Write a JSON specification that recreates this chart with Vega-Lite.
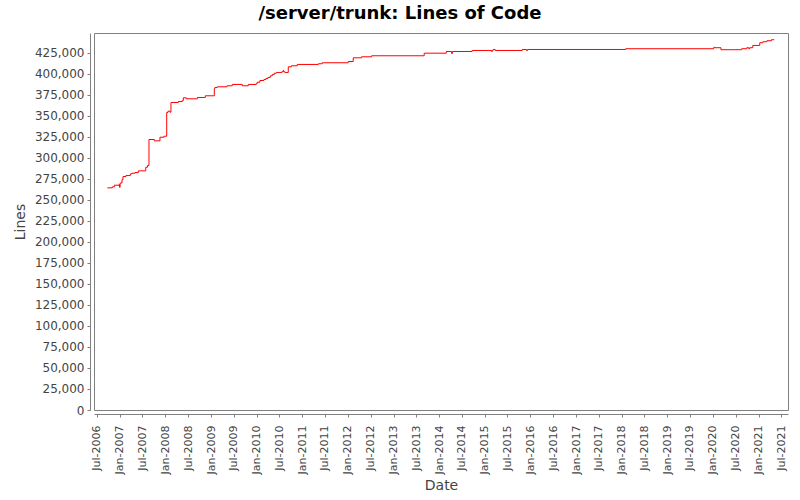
{
  "$schema": "https://vega.github.io/schema/vega-lite/v6.json",
  "autosize": "none",
  "width": 694,
  "height": 377,
  "padding": {"left": 94, "top": 33, "right": 12, "bottom": 90},
  "background": "#ffffff",
  "title": {
    "text": "/server/trunk: Lines of Code",
    "font": "DejaVu Sans",
    "fontSize": 18,
    "fontWeight": "bold",
    "color": "#000000",
    "anchor": "middle",
    "dx": -41,
    "offset": 10
  },
  "config": {
    "view": {"stroke": "#808080", "strokeWidth": 1},
    "axis": {
      "grid": false,
      "domainColor": "#808080",
      "tickColor": "#808080",
      "tickSize": 3,
      "labelFont": "DejaVu Sans",
      "labelColor": "#444444",
      "titleFont": "DejaVu Sans",
      "titleColor": "#444444",
      "titleFontSize": 14,
      "titleFontWeight": "normal",
      "offset": 4
    }
  },
  "data": {
    "values": [
      {"date": "2006-09-24", "lines": 264300},
      {"date": "2006-11-03", "lines": 265500},
      {"date": "2006-11-19", "lines": 267400},
      {"date": "2006-12-26", "lines": 268200},
      {"date": "2006-12-30", "lines": 265000},
      {"date": "2007-01-04", "lines": 270000},
      {"date": "2007-01-19", "lines": 274000},
      {"date": "2007-01-27", "lines": 277700},
      {"date": "2007-02-20", "lines": 278900},
      {"date": "2007-03-27", "lines": 280900},
      {"date": "2007-04-07", "lines": 281700},
      {"date": "2007-05-03", "lines": 282500},
      {"date": "2007-05-30", "lines": 284500},
      {"date": "2007-07-28", "lines": 288800},
      {"date": "2007-08-11", "lines": 290800},
      {"date": "2007-08-23", "lines": 321800},
      {"date": "2007-10-05", "lines": 320200},
      {"date": "2007-11-19", "lines": 324500},
      {"date": "2007-12-21", "lines": 325700},
      {"date": "2008-01-12", "lines": 353900},
      {"date": "2008-01-22", "lines": 355500},
      {"date": "2008-02-07", "lines": 354300},
      {"date": "2008-02-15", "lines": 365800},
      {"date": "2008-04-14", "lines": 367000},
      {"date": "2008-05-16", "lines": 368200},
      {"date": "2008-05-24", "lines": 371400},
      {"date": "2008-06-17", "lines": 370200},
      {"date": "2008-09-13", "lines": 371800},
      {"date": "2008-11-16", "lines": 373800},
      {"date": "2009-01-27", "lines": 382500},
      {"date": "2009-02-01", "lines": 383700},
      {"date": "2009-02-20", "lines": 384500},
      {"date": "2009-05-08", "lines": 385700},
      {"date": "2009-06-20", "lines": 387300},
      {"date": "2009-09-08", "lines": 385700},
      {"date": "2009-10-26", "lines": 387300},
      {"date": "2009-12-29", "lines": 388500},
      {"date": "2010-01-06", "lines": 390000},
      {"date": "2010-01-27", "lines": 392000},
      {"date": "2010-02-28", "lines": 393200},
      {"date": "2010-03-16", "lines": 394400},
      {"date": "2010-04-01", "lines": 395600},
      {"date": "2010-04-20", "lines": 397600},
      {"date": "2010-05-06", "lines": 399200},
      {"date": "2010-05-22", "lines": 400700},
      {"date": "2010-06-10", "lines": 401600},
      {"date": "2010-07-22", "lines": 402400},
      {"date": "2010-08-01", "lines": 403900},
      {"date": "2010-08-05", "lines": 402400},
      {"date": "2010-08-15", "lines": 401600},
      {"date": "2010-09-11", "lines": 408300},
      {"date": "2010-10-05", "lines": 409500},
      {"date": "2010-11-22", "lines": 411100},
      {"date": "2011-05-09", "lines": 411900},
      {"date": "2011-06-10", "lines": 413100},
      {"date": "2012-01-04", "lines": 414600},
      {"date": "2012-02-13", "lines": 419000},
      {"date": "2012-04-20", "lines": 420200},
      {"date": "2012-07-09", "lines": 421400},
      {"date": "2013-09-03", "lines": 424500},
      {"date": "2014-02-27", "lines": 426500},
      {"date": "2014-04-10", "lines": 424200},
      {"date": "2014-04-18", "lines": 426500},
      {"date": "2014-09-22", "lines": 427700},
      {"date": "2015-02-24", "lines": 426500},
      {"date": "2015-03-02", "lines": 427700},
      {"date": "2015-03-09", "lines": 428900},
      {"date": "2015-03-25", "lines": 427700},
      {"date": "2015-10-28", "lines": 428900},
      {"date": "2015-12-01", "lines": 427700},
      {"date": "2015-12-09", "lines": 428900},
      {"date": "2018-02-02", "lines": 429800},
      {"date": "2020-01-08", "lines": 431500},
      {"date": "2020-01-16", "lines": 431000},
      {"date": "2020-03-05", "lines": 428600},
      {"date": "2020-08-18", "lines": 429800},
      {"date": "2020-09-28", "lines": 431000},
      {"date": "2020-10-14", "lines": 429800},
      {"date": "2020-10-22", "lines": 431000},
      {"date": "2020-11-15", "lines": 433700},
      {"date": "2021-01-10", "lines": 436900},
      {"date": "2021-02-04", "lines": 438100},
      {"date": "2021-03-08", "lines": 439300},
      {"date": "2021-04-13", "lines": 440500},
      {"date": "2021-05-06", "lines": 440500}
    ]
  },
  "mark": {"type": "line", "interpolate": "step-after", "color": "#ff0000", "strokeWidth": 1},
  "encoding": {
    "x": {
      "field": "date",
      "type": "temporal",
      "title": "Date",
      "scale": {
        "domain": [
          {"year": 2006, "month": "Jun", "date": 9},
          {"year": 2021, "month": "Aug", "date": 24}
        ]
      },
      "axis": {
        "format": "%b-%Y",
        "tickCount": {"interval": "month", "step": 6},
        "labelAngle": -90,
        "labelFontSize": 11,
        "labelPadding": 8,
        "labelOverlap": false,
        "titlePadding": 5
      }
    },
    "y": {
      "field": "lines",
      "type": "quantitative",
      "title": "Lines",
      "scale": {"domain": [0, 448500], "nice": false},
      "axis": {
        "values": [0, 25000, 50000, 75000, 100000, 125000, 150000, 175000, 200000, 225000, 250000, 275000, 300000, 325000, 350000, 375000, 400000, 425000],
        "format": ",d",
        "labelFontSize": 12,
        "labelPadding": 3,
        "titlePadding": 7
      }
    }
  }
}
